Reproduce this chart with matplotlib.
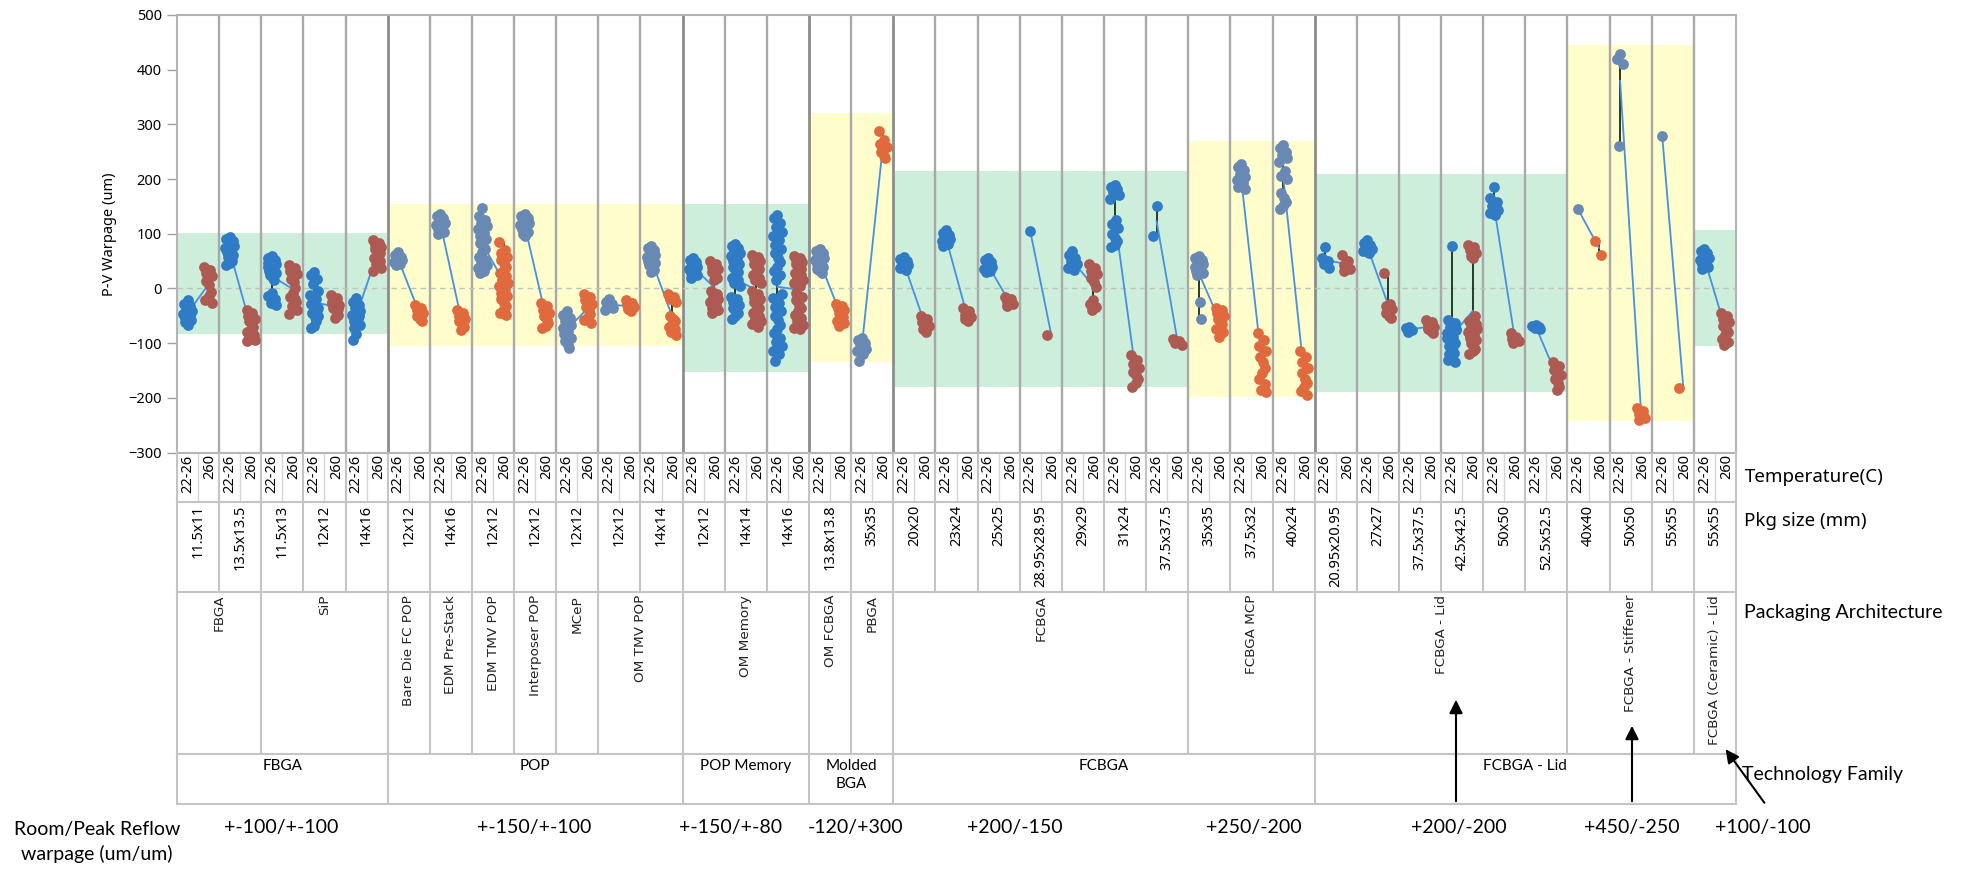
import matplotlib
matplotlib.use("Agg")
import matplotlib.pyplot as plt
from matplotlib.patches import Rectangle
import numpy as np

plt.rcParams['font.family'] = ['Noto Sans', 'DejaVu Sans']

# ---- data -------------------------------------------------------------
families = ['FBGA', 'POP', 'POP Memory', 'Molded\nBGA', 'FCBGA', 'FCBGA - Lid']
family_n = [5, 7, 3, 2, 10, 10]

archs = ['FBGA', 'SiP', 'Bare Die FC POP', 'EDM Pre-Stack', 'EDM TMV POP',
         'Interposer POP', 'MCeP', 'OM TMV POP', 'OM Memory', 'OM FCBGA', 'PBGA',
         'FCBGA', 'FCBGA MCP', 'FCBGA - Lid', 'FCBGA - Stiffener',
         'FCBGA (Ceramic) - Lid']
arch_n = [2, 3, 1, 1, 1, 1, 1, 2, 3, 1, 1, 7, 3, 6, 3, 1]

pkg_sizes = ['11.5x11', '13.5x13.5', '11.5x13', '12x12', '14x16', '12x12', '14x16',
             '12x12', '12x12', '12x12', '12x12', '14x14', '12x12', '14x14', '14x16',
             '13.8x13.8', '35x35', '20x20', '23x24', '25x25', '28.95x28.95', '29x29',
             '31x24', '37.5x37.5', '35x35', '37.5x32', '40x24', '20.95x20.95', '27x27',
             '37.5x37.5', '42.5x42.5', '50x50', '52.5x52.5', '40x40', '50x50', '55x55',
             '55x55']
temps = ['22-26', '260']

# spec windows (room/peak reflow) and the shaded band drawn for each
spec_labels = ['+-100/+-100', '+-150/+-100', '+-150/+-80', '-120/+300', '+200/-150',
               '+250/-200', '+200/-200', '+450/-250', '+100/-100']
spec_n = [5, 7, 3, 2, 7, 3, 6, 3, 1]
band_top = [102, 155, 155, 320, 215, 270, 210, 445, 107]
band_bottom = [-84, -106, -153, -134, -181, -199, -190, -242, -106]

# P-V warpage (um) per package, room temperature (22-26 C)
room = [
    [-22, -28, -33, -38, -42, -46, -50, -54, -58, -62, -66, -48, -40],
    [94, 90, 86, 82, 78, 74, 70, 66, 62, 58, 54, 50, 46, 42, 80, 68],
    [60, 56, 52, 48, 44, 40, 36, 32, 28, 24, 20, 15, -8, -14, -20, -26, -30, 46],
    [30, 24, 18, 8, -4, -12, -20, -28, -36, -44, -52, -60, -68, -73, -40, -25, -50],
    [-18, -24, -30, -36, -42, -48, -54, -60, -66, -72, -30, -50, -84, -94],
    [66, 62, 58, 55, 52, 48, 45, 43],
    [136, 132, 128, 124, 120, 116, 112, 108, 104, 100, 125],
    [148, 132, 126, 120, 114, 108, 102, 96, 90, 84, 78, 72, 66, 57, 52, 47, 42, 37, 32, 28],
    [136, 132, 128, 124, 120, 116, 112, 108, 104, 100, 96],
    [-42, -48, -54, -60, -66, -72, -78, -84, -90, -96, -104, -108],
    [-20, -24, -28, -32, -36, -40],
    [78, 74, 70, 66, 62, 58, 54, 50, 46, 42, 38, 34, 30],
    [56, 52, 48, 44, 40, 36, 32, 28, 24, 20, 48, 38],
    [82, 78, 74, 70, 65, 60, 55, 50, 45, 40, 35, 30, 25, 20, 15, 10, 5,
     -15, -20, -25, -30, -35, -40, -45, -50, -55],
    [135, 128, 120, 112, 104, 96, 88, 80, 72, 64, 56, 48, 40, 32, 24, 16,
     -10, -18, -26, -34, -42, -50, -58, -66, -74, -82, -90, -98, -106, -114, -120, -132],
    [72, 68, 64, 60, 56, 52, 48, 44, 40, 36, 32, 28],
    [-90, -95, -100, -105, -110, -115, -120, -132],
    [58, 54, 50, 46, 42, 38, 34],
    [106, 102, 98, 94, 90, 86, 82, 78],
    [56, 52, 48, 44, 40, 36, 32, 30],
    [105],
    [68, 62, 56, 50, 44, 38, 34],
    [190, 186, 182, 176, 170, 164, 125, 118, 110, 100, 92, 86, 80, 76],
    [150, 95],
    [60, 56, 52, 48, 44, 40, 36, 32, 28, 24, -25, -55],
    [228, 222, 216, 210, 204, 198, 192, 186, 182],
    [262, 256, 250, 244, 238, 232, 215, 205, 200, 175, 165, 158, 150, 145],
    [75, 55, 50, 44, 38],
    [88, 84, 80, 76, 72, 68, 64],
    [-70, -73, -76, -79],
    [77, -58, -64, -70, -76, -82, -88, -94, -100, -106, -112, -118, -124, -130, -135,
     -62, -75, -90, -105, -120],
    [185, 165, 158, 150, 144, 138, 135],
    [-66, -68, -70, -72, -75],
    [145],
    [428, 420, 410, 260],
    [278],
    [72, 68, 64, 60, 56, 52, 48, 44, 40, 36],
]

# P-V warpage (um) per package, peak reflow (260 C)
peak = [
    [40, 34, 28, 22, 14, 6, -6, -14, -22, -27],
    [-40, -45, -50, -55, -60, -65, -70, -75, -80, -85, -90, -94, -97],
    [43, 38, 32, 26, 18, 12, 0, -8, -16, -24, -32, -40, -46, -20],
    [-12, -18, -24, -30, -36, -42, -48, -54, -28, -38],
    [88, 84, 80, 76, 72, 68, 64, 60, 56, 50, 44, 38, 32],
    [-30, -35, -40, -45, -50, -55, -60],
    [-40, -45, -50, -55, -60, -65, -70, -76],
    [85, 70, 64, 58, 52, 46, 40, 34, 28, 22, 16, 10, 4, -2, -8, -14, -20, -26,
     -32, -38, -44, -49],
    [-27, -33, -39, -45, -51, -57, -63, -69, -73, -45],
    [-10, -16, -22, -28, -34, -40, -46, -52, -58, -64, -30],
    [-22, -26, -30, -34, -38, -42],
    [-10, -15, -20, -25, -50, -55, -60, -65, -70, -75, -80, -85],
    [50, 45, 40, 35, 30, 25, 20, 15, -5, -10, -15, -20, -25, -30, -35, -40, -45],
    [62, 58, 54, 50, 45, 40, 35, 30, 25, 20, 15, 10, -5, -10, -15, -20, -25,
     -30, -35, -40, -45, -50, -55, -60, -65, -70],
    [60, 56, 52, 48, 44, 40, 36, 32, 28, 24, 20, 15, 10, 5, -8, -15, -22, -30,
     -36, -42, -48, -54, -60, -66, -72, -75],
    [-28, -32, -36, -40, -44, -48, -52, -56, -60, -64, -68],
    [288, 272, 265, 258, 250, 243, 238],
    [-50, -56, -62, -68, -74, -80],
    [-36, -42, -48, -52, -56, -60],
    [-16, -20, -24, -28, -32],
    [-85],
    [44, 38, 32, 26, 20, 12, 2, -22, -28, -34, -40],
    [-122, -130, -138, -146, -152, -158, -165, -172, -180],
    [-92, -96, -100, -103],
    [-35, -40, -45, -50, -55, -60, -65, -70, -75, -80, -88],
    [-82, -95, -105, -115, -125, -135, -145, -155, -165, -175, -185, -190],
    [-115, -125, -135, -145, -155, -165, -172, -180, -188, -195],
    [62, 50, 42, 36, 32],
    [28, -28, -32, -38, -44, -50, -54],
    [-58, -62, -66, -70, -74, -78, -82],
    [80, 75, 70, 65, 60, 55, -50, -55, -60, -65, -70, -75, -80, -85, -90, -95,
     -100, -105, -110, -115, -120],
    [-82, -88, -92, -96, -100],
    [-135, -142, -150, -158, -165, -172, -180, -186],
    [86, 62],
    [-218, -224, -230, -236, -240],
    [-182],
    [-44, -50, -56, -62, -68, -74, -80, -86, -92, -98, -104],
]

# ---- layout (pixels of the 1976x875 canvas) ---------------------------
W, H = 1976, 875
x0, x1 = 177, 1736
y_top, y_plot = 15, 452.5
row_y = [452.5, 502, 592, 754, 804]
ncol = len(pkg_sizes)

fig = plt.figure(figsize=(W / 100, H / 100), dpi=100)
ax = fig.add_axes([x0 / W, 1 - y_plot / H, (x1 - x0) / W, (y_plot - y_top) / H])
tax = fig.add_axes([x0 / W, 1 - row_y[-1] / H, (x1 - x0) / W, (row_y[-1] - y_plot) / H])

green, yellow = '#cdeedb', '#fffdcb'
pal = {True: ('#2f7bc6', '#ad5a53'), False: ('#6789b4', '#e0693d')}
jit = [0.0, -0.08, 0.07, -0.03, 0.1, -0.1, 0.04, -0.06, 0.09, -0.05, 0.02, 0.06]

# shaded spec bands
band_of_col = []
start = 0
for k, n in enumerate(spec_n):
    is_green = (k % 2 == 0)
    ax.add_patch(Rectangle((start, band_bottom[k]), n, band_top[k] - band_bottom[k],
                           color=green if is_green else yellow, lw=0, zorder=0))
    band_of_col += [is_green] * n
    start += n

# column separators
fam_edges = np.cumsum(family_n)[:-1]
for c in range(1, ncol):
    dark = c in fam_edges
    ax.axvline(c, color='#8c8c8c' if dark else '#a9a9a9', lw=2.0 if dark else 1.7, zorder=1)
ax.axhline(0, color='#b9c6b9', lw=1, ls=(0, (4, 3)), zorder=1)

# data
for c in range(ncol):
    cb, cr = pal[band_of_col[c]]
    xb, xr = c + 0.25, c + 0.75
    for vals, xc in ((room[c], xb), (peak[c], xr)):
        if len(vals) > 1:
            ax.vlines(xc, min(vals), max(vals), color='#1c2a1c', lw=1.3, zorder=2)
    ax.plot([xb, xr], [np.mean(room[c]), np.mean(peak[c])], color='#4690e0', lw=1.3, zorder=2.5)
    ax.scatter([xb + jit[i % len(jit)] for i in range(len(room[c]))], room[c],
               s=60, color=cb, lw=0, zorder=3)
    ax.scatter([xr + jit[(i + 5) % len(jit)] for i in range(len(peak[c]))], peak[c],
               s=60, color=cr, lw=0, zorder=3)

ax.set_xlim(0, ncol)
ax.set_ylim(-300, 500)
ax.set_yticks(range(-300, 501, 100))
ax.set_xticks([])
ax.tick_params(axis='y', length=7, width=1, color='#a0a0a0', labelsize=10.5, pad=4)
for s in ax.spines.values():
    s.set_color('#b4b4b4')
    s.set_linewidth(1.5)
ax.set_ylabel('P-V Warpage (um)', fontsize=10.5)
ax.yaxis.set_label_coords((117 - x0) / (x1 - x0), 0.5)

# ---- header table under the plot ----------------------------------------
tax.set_xlim(0, ncol)
tax.set_ylim(row_y[-1], row_y[0])
tax.axis('off')
lc = '#c4c4c4'
for yy in row_y[1:]:
    tax.plot([0, ncol], [yy, yy], color=lc, lw=1.5, clip_on=False)
tax.plot([0, 0], [row_y[0], row_y[-1]], color=lc, lw=1.5, clip_on=False)
tax.plot([ncol, ncol], [row_y[0], row_y[-1]], color=lc, lw=1.5, clip_on=False)

for c in range(ncol):
    if c > 0:
        tax.plot([c, c], [row_y[0], row_y[2]], color=lc, lw=1.5)
    tax.plot([c + 0.5, c + 0.5], [row_y[0] + 2, row_y[1] - 2], color='#d6d6d6', lw=1)
    tax.text(c + 0.25, row_y[0] + 2, temps[0], rotation=90, ha='center', va='top', fontsize=10.5)
    tax.text(c + 0.78, row_y[0] + 2, temps[1], rotation=90, ha='center', va='top', fontsize=10.5)
    tax.text(c + 0.5, row_y[1] + 3, pkg_sizes[c], rotation=90, ha='center', va='top', fontsize=10.5)

start = 0
for name, n in zip(archs, arch_n):
    if start > 0:
        tax.plot([start, start], [row_y[2], row_y[3]], color=lc, lw=1.5)
    tax.text(start + n / 2, row_y[2] + 3, name, rotation=90, ha='center', va='top',
             fontsize=9.7, family='DejaVu Sans', color='#222222')
    start += n

start = 0
for name, n in zip(families, family_n):
    if start > 0:
        tax.plot([start, start], [row_y[3], row_y[4]], color=lc, lw=1.5)
    tax.text(start + n / 2, row_y[3] + 5, name, ha='center', va='top', fontsize=11,
             family='Lato', linespacing=1.35)
    start += n

# row titles on the right
side = dict(ha='left', va='center', clip_on=False)
tax.text(ncol + 0.2, 477, 'Temperature(C)', fontsize=13.5, **side)
tax.text(ncol + 0.2, 521, 'Pkg size (mm)', fontsize=13.5, **side)
tax.text(ncol + 0.2, 613, 'Packaging Architecture', fontsize=14, family='Lato', **side)
tax.text(ncol + 0.15, 775, 'Technology Family', fontsize=14, family='Lato', **side)

# spec row below the table
def px2col(px):
    return (px - x0) / (x1 - x0) * ncol

label_px = [281, 534, 731, 856, 1015, 1254, 1459, 1632, 1763]
for lab, px in zip(spec_labels, label_px):
    tax.text(px2col(px), 828, lab, ha='center', va='center', fontsize=14,
             family='Lato', clip_on=False)
tax.text(px2col(97), 842, 'Room/Peak Reflow\nwarpage (um/um)', ha='center', va='center',
         fontsize=14, family='Lato', linespacing=1.45, clip_on=False)

arrow = dict(arrowstyle='-|>', color='black', lw=1.5, mutation_scale=20)
tax.annotate('', xy=(px2col(1456), 697), xytext=(px2col(1456), 804),
             arrowprops=arrow, annotation_clip=False)
tax.annotate('', xy=(px2col(1632), 723), xytext=(px2col(1632), 804),
             arrowprops=arrow, annotation_clip=False)
tax.annotate('', xy=(px2col(1724), 747), xytext=(px2col(1766), 805),
             arrowprops=arrow, annotation_clip=False)

fig.savefig('out.png', dpi=100)
